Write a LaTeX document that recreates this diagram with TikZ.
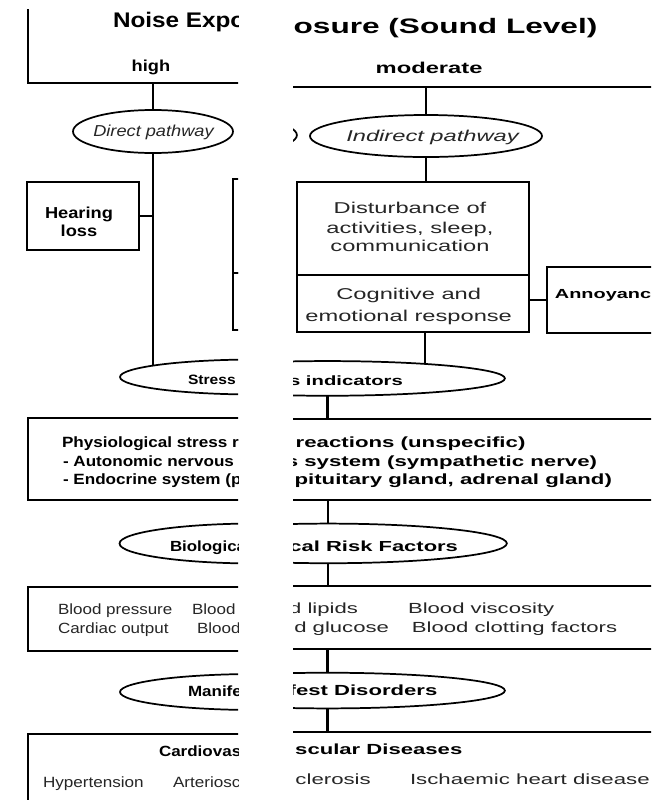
\documentclass[tikz,border=0pt]{standalone}
\usepackage{fontspec}
\setmainfont{Liberation Sans}[FakeStretch=1.15]
\usetikzlibrary{shapes.geometric}
\newcommand\setfs[2]{\fontsize{#1pt}{#2pt}\selectfont}

% boxes, ovals and connectors of the chart (no text), in pixel units
\newcommand\chartframe{%
  \node[boxshape, minimum width=600*0.75pt, minimum height=148*0.75pt] (noise) at (327.5,9) {};
  \node[ovalshape, minimum width=160*0.75pt, minimum height=43*0.75pt] (direct) at (153,131.5) {};
  \node[ovalshape, minimum width=178.5*0.75pt, minimum height=42.4*0.75pt] (indirect) at (332.3,132.4) {};
  \node[boxshape, minimum width=112*0.75pt, minimum height=68*0.75pt] (hear) at (83,216) {};
  \node[boxshape, minimum width=178.5*0.75pt, minimum height=93.5*0.75pt] (dist) at (322.25,225.75) {};
  \node[boxshape, minimum width=178.5*0.75pt, minimum height=57.5*0.75pt] (cog) at (322.25,301.25) {};
  \node[boxshape, minimum width=140*0.75pt, minimum height=66.6*0.75pt] (annoy) at (495.4,297.9) {};
  \node[ovalshape, minimum width=273*0.75pt, minimum height=35*0.75pt] (stress) at (256.5,377) {};
  \node[boxshape, minimum width=532.5*0.75pt, minimum height=81.5*0.75pt] (physio) at (293.75,458.75) {};
  \node[ovalshape, minimum width=275*0.75pt, minimum height=40*0.75pt] (bio) at (257,543.5) {};
  \node[boxshape, minimum width=532.5*0.75pt, minimum height=64*0.75pt] (blood) at (293.75,618.5) {};
  \node[ovalshape, minimum width=273*0.75pt, minimum height=36*0.75pt] (manif) at (256.5,692) {};
  \node[boxshape, minimum width=532.5*0.75pt, minimum height=96*0.75pt] (cardio) at (293.75,782) {};
  \draw[wire] (noise.south -| direct.north) -- (direct.north);
  \draw[wire] (noise.south -| indirect.north) -- (indirect.north);
  \draw[wire] (direct.south) -- (direct.south |- stress.173.71);
  \draw[wire] (hear.east) -- (hear.east -| direct.south);
  \draw[wire] (indirect.south) -- (indirect.south |- dist.north);
  \draw[wire] (cog.east |- annoy.west) -- (annoy.west);
  \draw[wire] (stress.11.56 |- cog.south) -- (stress.11.56);
  \draw[wire] (stress.south) -- (stress.south |- physio.north);
  \draw[wire] (bio.north |- physio.south) -- (bio.north);
  \draw[wire] (bio.south) -- (bio.south |- blood.north);
  \draw[wire] (manif.north |- blood.south) -- (manif.north);
  \draw[wire] (manif.south) -- (manif.south |- cardio.north);
}

\begin{document}
\begin{tikzpicture}[x=0.75pt, y=-0.75pt,
  wire/.style={line width=1.7pt},
  boxshape/.style={draw, line width=1.5pt, rectangle, inner sep=0pt, outer sep=0pt},
  ovalshape/.style={draw, line width=1.3pt, ellipse, inner sep=0pt, outer sep=0pt},
  txt/.style={inner sep=0pt, outer sep=0pt, anchor=base west},
  ctxt/.style={inner sep=0pt, outer sep=0pt, anchor=base},
  boldf/.style={font=\setfs{#1}{14}\bfseries},
  regf/.style={font=\setfs{#1}{14}, text=black!85},
  itf/.style={font=\setfs{#1}{14}\itshape, text=black!85}]
\useasboundingbox (0,0) rectangle (651,800);
\fill[white] (0,0) rectangle (651,800);

% left strip
\begin{scope}
  \clip (0,9) rectangle (238,800);
  \chartframe
  \node[txt, boldf=15.85] (titleL) at (113,27) {Noise Expo};
  \node[ctxt, boldf=11.9] (high) at (151,71.5) {high};
  \node[ctxt, itf=11.87] (directL) at (153.5,136) {Direct pathway};
  \node[ctxt, boldf=11.9] (hearA) at (79,218) {Hearing};
  \node[ctxt, boldf=11.9] (hearB) at (79,236) {loss};
  \node[txt, boldf=10.17] (stressL) at (188,384) {Stress};
  \node[txt, boldf=11.15] (physA) at (62,447) {Physiological stress r};
  \node[txt, boldf=11.15] (physB) at (63,466) {- Autonomic nervous};
  \node[txt, boldf=11.15] (physC) at (63,484.5) {- Endocrine system (p};
  \node[txt, boldf=11.02] (bioL) at (170,551.5) {Biologica};
  \node[txt, regf=11.09] (bpA) at (58,614) {Blood pressure};
  \node[txt, regf=11.09] (blA) at (192,614) {Blood};
  \node[txt, regf=11.09] (coB) at (58,633) {Cardiac output};
  \node[txt, regf=11.09] (bgB) at (197,633) {Blood};
  \node[txt, boldf=11.09] (manL) at (188,696.5) {Manife};
  \node[txt, boldf=11.09] (cvL) at (159,756.5) {Cardiovas};
  \node[txt, regf=11.15] (hyp) at (43,787) {Hypertension};
  \node[txt, regf=11.15] (artL) at (173,787) {Arteriosc};
\end{scope}

% right strip (wider print of the same chart)
\begin{scope}
  \clip (293,9) rectangle (651,800);
  \begin{scope}[shift={(-6,4.8)}, xscale=1.3, yscale=0.991, transform shape]
    \chartframe
    \node[txt, boldf=15.85] (titleR) at (230.5,28.5) {osure (Sound Level)};
    \node[ctxt, boldf=11.9] (moderate) at (334.7,69.8) {moderate};
    \node[ctxt, itf=11.87] (indirectR) at (337.3,138.1) {Indirect pathway};
    \node[ctxt, regf=11.87] (distA) at (320,210.1) {Disturbance of};
    \node[ctxt, regf=11.87] (distB) at (320,230.3) {activities, sleep,};
    \node[ctxt, regf=11.87] (distC) at (320,249.4) {communication};
    \node[ctxt, regf=11.87] (cogA) at (319,297.2) {Cognitive and};
    \node[ctxt, regf=11.87] (cogB) at (319,319.8) {emotional response};
    \node[txt, boldf=9.98] (annoyR) at (431.5,295.9) {Annoyanc};
    \node[txt, boldf=10.17] (stressR) at (227,384) {s indicators};
    \node[txt, boldf=11.15] (physAR) at (232.1,447) {reactions (unspecific)};
    \node[txt, boldf=11.15] (physBR) at (224.5,466) {s system (sympathetic nerve)};
    \node[txt, boldf=11.15] (physCR) at (231.2,484.5) {pituitary gland, adrenal gland)};
    \node[txt, boldf=11.02] (bioR) at (227.3,551.5) {cal Risk Factors};
    \node[txt, regf=11.09] (blR) at (227,614) {d lipids};
    \node[txt, regf=11.09] (bv) at (318.5,614) {Blood viscosity};
    \node[txt, regf=11.09] (bgR) at (231,633) {d glucose};
    \node[txt, regf=11.09] (bc) at (321.5,633) {Blood clotting factors};
    \node[txt, boldf=11.09] (manR) at (226.7,696.5) {fest Disorders};
    \node[txt, boldf=11.09] (cvR) at (231.7,756.5) {scular Diseases};
    \node[txt, regf=11.15] (artR) at (231.9,787) {clerosis};
    \node[txt, regf=11.15] (ihd) at (320,787) {Ischaemic heart disease};
  \end{scope}
\end{scope}
\end{tikzpicture}
\end{document}
